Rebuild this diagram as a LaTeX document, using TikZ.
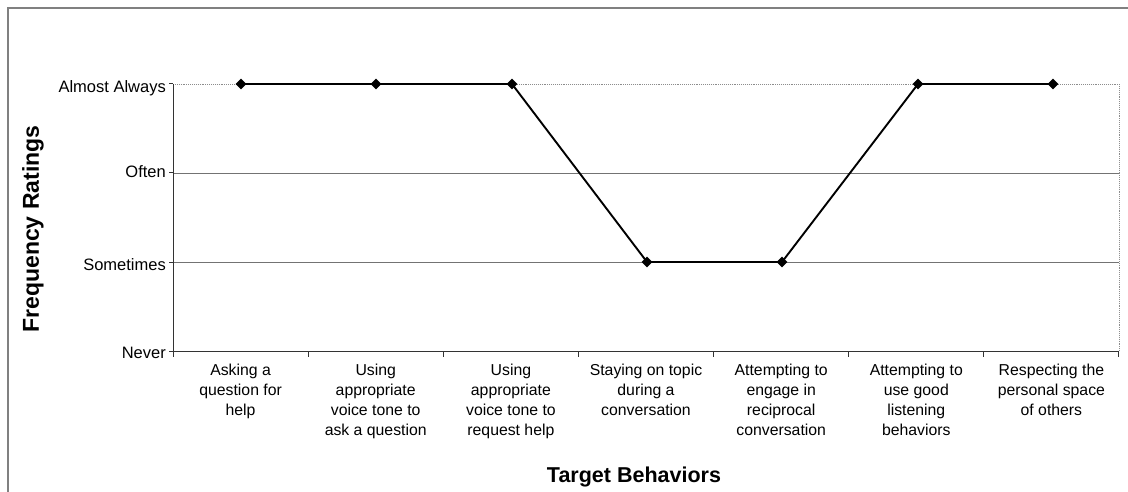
\documentclass[tikz,border=0pt]{standalone}
\usepackage{fontspec}
\setmainfont{Liberation Sans}
\usetikzlibrary{shapes.geometric}
\begin{document}
\begin{tikzpicture}[x=1pt,y=-1pt,
  frame/.style={draw=black!50,line width=1.2pt},
  grid/.style={draw=black!55,line width=0.9pt},
  plotedge/.style={draw=black!45,line width=0.9pt,densely dotted},
  axis/.style={draw=black!80,line width=1pt},
  series/.style={draw=black,line width=1.9pt},
  pt/.style={diamond,fill=black,inner sep=0pt,minimum size=11pt},
  ylab/.style={anchor=east,inner sep=0pt,font=\fontsize{16.5}{19}\selectfont},
  catlab/.style={anchor=north,inner sep=0pt,align=center,font=\fontsize{15.8}{20}\selectfont},
  title/.style={inner sep=0pt,font=\fontsize{21.5}{26}\selectfont\bfseries}]
\useasboundingbox (0,0) rectangle (1128,492);

% outer chart frame (left and top edges)
\draw[frame] (8,492) -- (8,8) -- (1128,8);

% plot area
\coordinate (tl) at (173,84);
\coordinate (tr) at (1119,84);
\coordinate (bl) at (173,351);
\coordinate (br) at (1119,351);

% horizontal gridlines
\draw[grid] (173,173) -- (1119,173);
\draw[grid] (173,262) -- (1119,262);

% plot area border (top and right)
\draw[plotedge] (tl) -- (tr) -- (br);

% axes
\draw[axis] (tl) -- (bl) -- (br);
\foreach \k in {0,...,7} {
  \draw[axis] ({173+135.14*\k},351) -- ({173+135.14*\k},357);
}
\foreach \yy in {84,173,262,351} {
  \draw[axis] (169,\yy) -- (173,\yy);
}

% value labels
\node[ylab] (la) at (166,88) {Almost Always};
\node[ylab] (lo) at (166,172) {Often};
\node[ylab] (ls) at (166,265) {Sometimes};
\node[ylab] (ln) at (166,353) {Never};

% category labels
\node[catlab] (c1) at (240.6,364) {Asking a\\question for\\help};
\node[catlab] (c2) at (375.7,364) {Using\\appropriate\\voice tone to\\ask a question};
\node[catlab] (c3) at (510.9,364) {Using\\appropriate\\voice tone to\\request help};
\node[catlab] (c4) at (646.0,364) {Staying on topic\\during a\\conversation};
\node[catlab] (c5) at (781.2,364) {Attempting to\\engage in\\reciprocal\\conversation};
\node[catlab] (c6) at (916.3,364) {Attempting to\\use good\\listening\\behaviors};
\node[catlab] (c7) at (1051.4,364) {Respecting the\\personal space\\of others};

% axis titles
\node[title,anchor=base] (xt) at (634,482) {Target Behaviors};
\node[title,rotate=90,font=\fontsize{23}{27}\selectfont\bfseries] (yt) at (33,229) {Frequency Ratings};

% data series
\node[pt] (p1) at (241,84) {};
\node[pt] (p2) at (376,84) {};
\node[pt] (p3) at (512,84) {};
\node[pt] (p4) at (647,262) {};
\node[pt] (p5) at (782,262) {};
\node[pt] (p6) at (918,84) {};
\node[pt] (p7) at (1053,84) {};
\draw[series,line join=round] (p1.center) -- (p2.center) -- (p3.center) -- (p4.center)
  -- (p5.center) -- (p6.center) -- (p7.center);
\end{tikzpicture}
\end{document}
